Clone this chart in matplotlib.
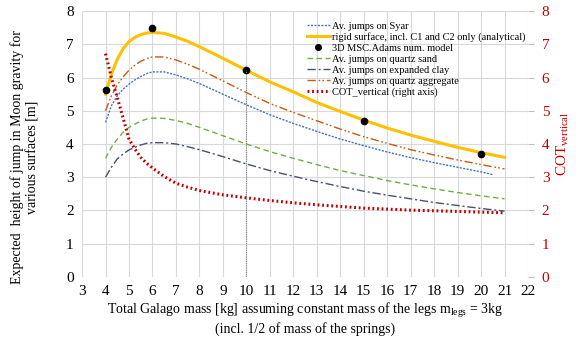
import matplotlib.pyplot as plt

plt.rcParams['font.family'] = ['Liberation Serif', 'DejaVu Serif']
plt.rcParams['mathtext.fontset'] = 'custom'
plt.rcParams['mathtext.rm'] = 'Liberation Serif'
plt.rcParams['mathtext.it'] = 'Liberation Serif'

# masses [kg]
m = [4, 4.25, 4.5, 4.75, 5, 5.25, 5.5, 5.75, 6, 6.5, 7, 7.5, 8, 9, 10, 11, 12, 13, 14, 15, 16, 17, 18, 19, 20, 21]
m_syar = m[:-1] + [20.5]

syar = [4.65, 5.15, 5.45, 5.65, 5.8, 5.93, 6.03, 6.12, 6.17, 6.17, 6.08, 5.96, 5.82, 5.5, 5.18, 4.88,
        4.62, 4.38, 4.15, 3.95, 3.76, 3.59, 3.44, 3.3, 3.16, 3.08]
rigid = [5.5, 6.1, 6.55, 6.87, 7.08, 7.21, 7.29, 7.34, 7.36, 7.33, 7.22, 7.09, 6.93, 6.58, 6.22, 5.87,
         5.57, 5.25, 4.98, 4.72, 4.48, 4.27, 4.08, 3.9, 3.74, 3.6]
sand = [3.57, 3.9, 4.15, 4.35, 4.5, 4.6, 4.69, 4.75, 4.78, 4.77, 4.71, 4.62, 4.5, 4.25, 4.0, 3.77,
        3.57, 3.38, 3.2, 3.05, 2.9, 2.77, 2.65, 2.54, 2.44, 2.35]
clay = [3.0, 3.3, 3.55, 3.7, 3.82, 3.9, 3.97, 4.02, 4.04, 4.04, 4.0, 3.92, 3.83, 3.62, 3.4, 3.2,
        3.03, 2.87, 2.72, 2.58, 2.46, 2.35, 2.24, 2.15, 2.06, 1.98]
aggregate = [5.0, 5.45, 5.78, 6.02, 6.22, 6.37, 6.49, 6.57, 6.62, 6.62, 6.53, 6.4, 6.25, 5.9, 5.55, 5.22,
             4.95, 4.7, 4.45, 4.22, 4.02, 3.83, 3.67, 3.52, 3.38, 3.25]
cot = [6.72, 6.0, 5.4, 4.78, 4.15, 3.85, 3.6, 3.42, 3.28, 3.02, 2.82, 2.7, 2.6, 2.47, 2.38, 2.3,
       2.23, 2.17, 2.12, 2.07, 2.04, 2.01, 1.99, 1.97, 1.95, 1.93]

adams_m = [4, 6, 10, 15, 20]
adams_h = [5.63, 7.48, 6.22, 4.68, 3.71]

fig = plt.figure(figsize=(5.86, 3.47), dpi=100)
ax = fig.add_axes([0.14, 0.202, 0.761, 0.766])

ax.plot(m_syar, syar, color='#4472C4', lw=1, ls=(0, (1.5, 1)), label='Av. jumps on Syar')
ax.plot(m, rigid, color='#FFC000', lw=2.2, label='rigid surface, incl. C1 and C2 only (analytical)')
ax.plot(adams_m, adams_h, 'o', color='black', ms=4.5, label='3D MSC.Adams num. model')
ax.plot(m, sand, color='#70AD47', lw=1, ls=(0, (4, 2.5)), label='Av. jumps on quartz sand')
ax.plot(m, clay, color='#44546A', lw=1, ls=(0, (6, 2, 1.5, 2)), label='Av. jumps on expanded clay')
ax.plot(m, aggregate, color='#C55A11', lw=1, ls=(0, (6, 2, 1.2, 1.5, 1.2, 2)),
        label='Av. jumps on quartz aggregate')
ax.vlines(adams_m[2], 0, adams_h[2], color='#808080', lw=0.8, ls=(0, (1, 1)))

ax2 = ax.twinx()
ax2.plot(m, cot, color='#C00000', lw=2.2, ls=(0, (0.6, 0.9)))
ax.plot([], [], color='#C00000', lw=2.2, ls=(0, (0.6, 0.9)), label='COT_vertical (right axis)')

ax.set_xlim(3, 22)
ax.set_ylim(0, 8)
ax2.set_ylim(0, 8)
ax.set_xticks(range(3, 23))
ax.set_yticks(range(0, 9))
ax2.set_yticks(range(0, 9))
ax.grid(True, color='#D9D9D9', lw=0.8)
ax.set_axisbelow(True)
for a in (ax, ax2):
    for s in a.spines.values():
        s.set_visible(False)
ax.tick_params(axis='both', length=0, labelsize=11, pad=6)
ax2.tick_params(axis='y', length=4, color='#BFBFBF', labelcolor='#C00000', labelsize=11, pad=6)

ax.set_xlabel('Total Galago mass [kg] assuming constant mass of the legs m$_{\\mathrm{legs}}$ = 3kg\n'
              '(incl. 1/2 of mass of the springs)', fontsize=10, labelpad=2)
ax.set_ylabel('Expected  height of jump in Moon gravity for\nvarious surfaces [m]', fontsize=10)
ax.yaxis.set_label_coords(-0.095, 0.45)
ax2.set_ylabel('COT$_{\\mathrm{vertical}}$', fontsize=11, color='#C00000', labelpad=4)

leg = ax.legend(loc='upper left', bbox_to_anchor=(0.49, 0.985), frameon=False, fontsize=7.5,
                handlelength=2.2, handletextpad=0.2, labelspacing=0.15, borderaxespad=0.2,
                markerscale=0.9)

fig.savefig('out.png', dpi=100)
